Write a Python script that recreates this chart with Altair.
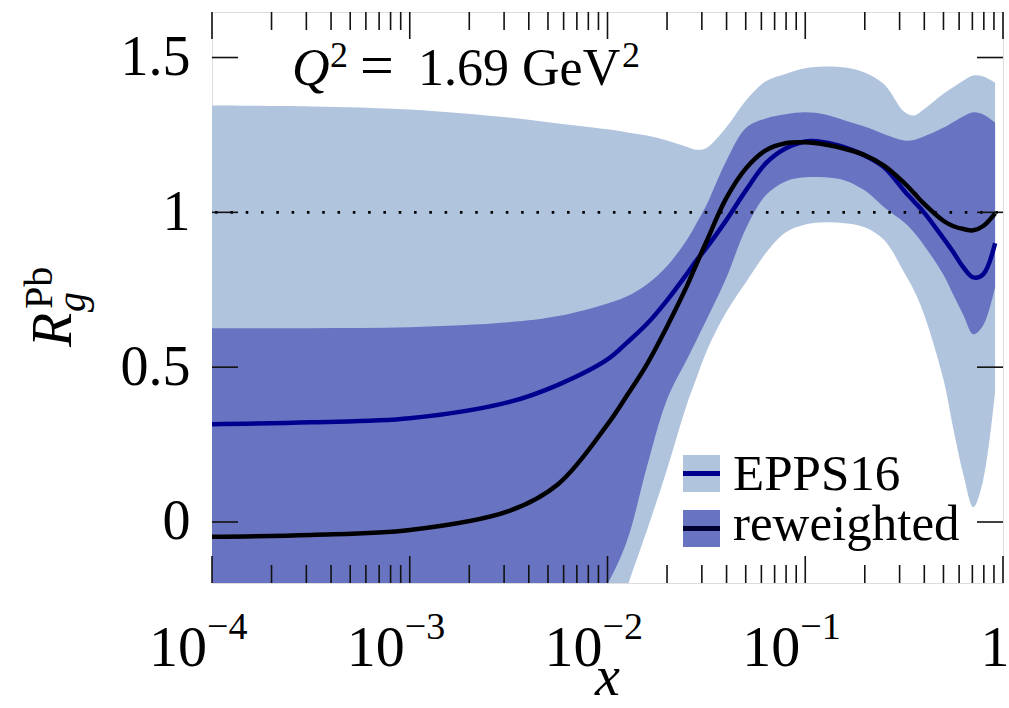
import altair as alt
import pandas as pd

# ---------------- data ----------------
log10_x = [-4.0, -3.5, -3.0, -2.5, -2.25, -2.0, -1.9, -1.8, -1.7, -1.6, -1.55, -1.5,
           -1.4, -1.3, -1.2, -1.1, -1.0, -0.9, -0.8, -0.7, -0.6, -0.5, -0.45, -0.4,
           -0.3, -0.25, -0.2, -0.15, -0.1, -0.04]

epps_hi = [1.345, 1.342, 1.332, 1.306, 1.287, 1.268, 1.258, 1.248, 1.232, 1.212, 1.202, 1.208,
           1.274, 1.361, 1.423, 1.447, 1.465, 1.471, 1.468, 1.452, 1.413, 1.325, 1.313, 1.333,
           1.384, 1.405, 1.426, 1.442, 1.439, 1.419]
epps_lo = [-1.3, -1.25, -1.15, -0.95, -0.7, -0.42, -0.21, -0.026, 0.168, 0.377, 0.465, 0.55,
           0.677, 0.774, 0.868, 0.935, 0.961, 0.968, 0.965, 0.952, 0.91, 0.806, 0.748, 0.672,
           0.458, 0.297, 0.152, 0.048, 0.135, 0.42]
rw_hi = [0.626, 0.626, 0.629, 0.645, 0.665, 0.706, 0.729, 0.768, 0.826, 0.91, 0.965, 1.023,
         1.165, 1.272, 1.303, 1.317, 1.323, 1.316, 1.297, 1.277, 1.252, 1.232, 1.234, 1.245,
         1.274, 1.292, 1.31, 1.323, 1.316, 1.29]
rw_lo = [-0.8, -0.78, -0.75, -0.65, -0.45, -0.2, -0.058, 0.18, 0.394, 0.523, 0.587, 0.652,
         0.787, 0.948, 1.055, 1.1, 1.113, 1.113, 1.103, 1.071, 1.016, 0.968, 0.935, 0.894,
         0.797, 0.732, 0.668, 0.606, 0.635, 0.758]
epps_central = [0.316, 0.322, 0.335, 0.387, 0.443, 0.525, 0.58, 0.64, 0.715, 0.80, 0.845, 0.885,
                0.974, 1.071, 1.158, 1.206, 1.229, 1.226, 1.21, 1.184, 1.145, 1.07, 1.035, 1.0,
                0.915, 0.87, 0.822, 0.79, 0.80, 0.90]
rw_central = [-0.048, -0.042, -0.026, 0.035, 0.122, 0.315, 0.41, 0.51, 0.63, 0.76, 0.833, 0.905,
              1.045, 1.142, 1.2, 1.223, 1.226, 1.219, 1.205, 1.185, 1.15, 1.095, 1.062, 1.028,
              0.972, 0.955, 0.946, 0.942, 0.956, 0.997]

major_x = [1e-4, 1e-3, 1e-2, 1e-1, 1.0]
minor_x = [m * 10.0 ** e for e in (-4, -3, -2, -1) for m in range(2, 10)]
y_ticks = [0, 0.5, 1, 1.5]
decade_values = [1e-4, 1e-3, 1e-2, 1e-1]
decade_exps = ["\u22124", "\u22123", "\u22122", "\u22121"]
legend_labels = ["EPPS16", "reweighted"]

# ---------------- style ----------------
W, H = 791, 571
FONT = "Liberation Serif, Times New Roman, serif"
LIGHT = "#B0C4DE"
DARK = "#6874C2"
BLUE = "#00008F"
BLACK = "#000000"
INTERP = "catmull-rom"

df = pd.DataFrame({
    "x": [10.0 ** v for v in log10_x],
    "epps_hi": epps_hi, "epps_lo": epps_lo,
    "rw_hi": rw_hi, "rw_lo": rw_lo,
    "epps": epps_central, "rw": rw_central,
})

xs = alt.Scale(type="log", domain=[1e-4, 1.0], nice=False)
ys = alt.Scale(domain=[-0.197, 1.647], nice=False, zero=False)
X = alt.X("x:Q", scale=xs, axis=None)

base = alt.Chart(df)

light = base.mark_area(color=LIGHT, clip=True, interpolate=INTERP).encode(
    x=X,
    y=alt.Y("epps_lo:Q", scale=ys,
            axis=alt.Axis(values=y_ticks, format="~g", labelFont=FONT, labelFontSize=56,
                          labelColor="black", labelPadding=22, ticks=False, domain=False,
                          grid=False, title=None)),
    y2="epps_hi:Q",
)
dark = base.mark_area(color=DARK, clip=True, interpolate=INTERP).encode(
    x=X, y=alt.Y("rw_lo:Q", scale=ys), y2="rw_hi:Q")

one = alt.Chart(alt.Data(values=[{"v": 1}])).mark_rule(
    color="black", strokeWidth=2.6, strokeDash=[2.6, 12.7], strokeDashOffset=-5
).encode(y=alt.Y("v:Q", scale=ys))

blue_line = base.mark_line(color=BLUE, strokeWidth=4.5, interpolate=INTERP).encode(
    x=X, y=alt.Y("epps:Q", scale=ys))
black_line = base.mark_line(color=BLACK, strokeWidth=4.5, interpolate=INTERP).encode(
    x=X, y=alt.Y("rw:Q", scale=ys))

# ticks (inward, mirrored)
maj = alt.Chart(pd.DataFrame({"x": major_x}))
mnr = alt.Chart(pd.DataFrame({"x": minor_x}))
tick_style = dict(color="#111111", strokeWidth=1.6)
xt = [
    maj.mark_rule(**tick_style).encode(x=X, y=alt.value(H), y2=alt.value(H - 27)),
    maj.mark_rule(**tick_style).encode(x=X, y=alt.value(0), y2=alt.value(27)),
    mnr.mark_rule(**tick_style).encode(x=X, y=alt.value(H), y2=alt.value(H - 18)),
    mnr.mark_rule(**tick_style).encode(x=X, y=alt.value(0), y2=alt.value(18)),
]
yt_data = alt.Chart(pd.DataFrame({"y": y_ticks}))
yt = [
    yt_data.mark_rule(**tick_style).encode(y=alt.Y("y:Q", scale=ys), x=alt.value(0), x2=alt.value(26)),
    yt_data.mark_rule(**tick_style).encode(y=alt.Y("y:Q", scale=ys), x=alt.value(W), x2=alt.value(W - 26)),
]

# x tick labels: 10^{-n} and 1
dec = alt.Chart(pd.DataFrame({"x": decade_values, "e": decade_exps}))
xlab = [
    dec.mark_text(text="10", font=FONT, fontSize=58, align="right", baseline="alphabetic",
                  dx=-5, color="black").encode(x=X, y=alt.value(H + 83)),
    dec.mark_text(font=FONT, fontSize=38, align="left", baseline="alphabetic",
                  dx=-5, color="black").encode(x=X, y=alt.value(H + 56), text="e:N"),
    alt.Chart(pd.DataFrame({"x": [1.0]})).mark_text(
        text="1", font=FONT, fontSize=58, align="center", baseline="alphabetic",
        dx=-8, color="black").encode(x=X, y=alt.value(H + 83)),
]


def label(text, x, y, size, style="normal", angle=0, align="left", baseline="alphabetic"):
    return alt.Chart(alt.Data(values=[{}])).mark_text(
        text=text, font=FONT, fontSize=size, fontStyle=style, align=align,
        baseline=baseline, angle=angle, color="black"
    ).encode(x=alt.value(x), y=alt.value(y))


annot = [
    # Q^2 = 1.69 GeV^2
    label("Q", 80, 73, 52, "italic"),
    label("2", 118, 55, 36),
    label("=", 148, 73, 60),
    label("1.69 GeV", 206, 73, 52),
    label("2", 410, 55, 36),
    # x axis title
    label("x", W / 2, H + 124, 56, "italic", align="center", baseline="bottom"),
    # y axis title R_g^Pb (rotated)
    label("R", -141, 335, 56, "italic", angle=270),
    label("g", -127, 300, 40, "italic", angle=270),
    label("Pb", -160, 297, 40, angle=270),
]

# legend
leg = [
    alt.Chart(alt.Data(values=[{}])).mark_rect(color=LIGHT).encode(
        x=alt.value(471), x2=alt.value(508), y=alt.value(443), y2=alt.value(480)),
    alt.Chart(alt.Data(values=[{}])).mark_rect(color=DARK).encode(
        x=alt.value(471), x2=alt.value(508), y=alt.value(498), y2=alt.value(535)),
    alt.Chart(alt.Data(values=[{}])).mark_rule(color=BLUE, strokeWidth=5).encode(
        x=alt.value(471), x2=alt.value(508), y=alt.value(461.5)),
    alt.Chart(alt.Data(values=[{}])).mark_rule(color="#000030", strokeWidth=5).encode(
        x=alt.value(471), x2=alt.value(508), y=alt.value(516.5)),
    label(legend_labels[0], 521, 478, 51),
    label(legend_labels[1], 521, 528, 51),
]

chart = alt.layer(light, dark, one, blue_line, black_line, *xt, *yt, *xlab, *annot, *leg).properties(
    width=W, height=H,
    autosize=alt.AutoSizeParams(type="none"),
    padding={"left": 212, "top": 12, "right": 6, "bottom": 125},
).configure_view(stroke="black", strokeWidth=3).configure(background="white")

chart.save("out.html", embed_options={"renderer": "svg", "actions": False})
